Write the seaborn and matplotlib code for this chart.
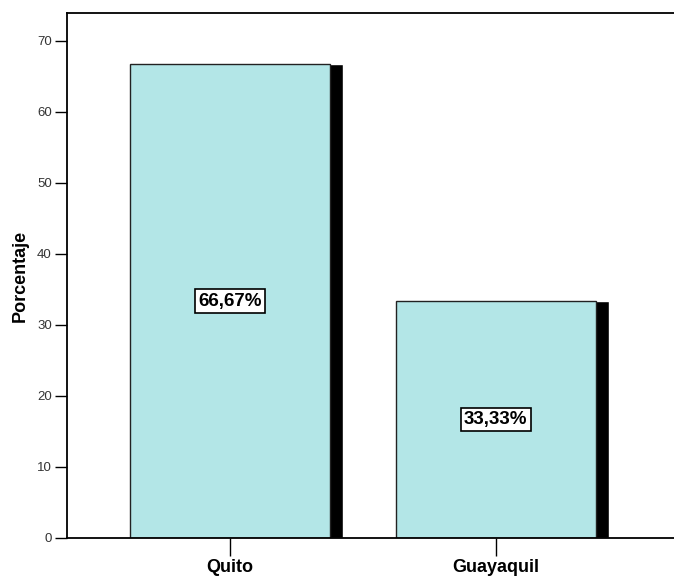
import numpy as np
import pandas as pd
import matplotlib
matplotlib.use('Agg')
import matplotlib.pyplot as plt
import seaborn as sns

# ── Datos ──
ciudades = ['Quito', 'Guayaquil']
porcentajes = [66.67, 33.33]
etiquetas = ['66,67%', '33,33%']
yticks = [0, 10, 20, 30, 40, 50, 60, 70]

sns.set_theme(style='white')
plt.rcParams['font.family'] = ['Liberation Sans', 'DejaVu Sans']

df = pd.DataFrame({'Ciudad': ciudades, 'Porcentaje': porcentajes})

fig = plt.figure(figsize=(6.74, 5.77), dpi=100)
ax = fig.add_axes([67 / 674, 39 / 577, 1 - 67 / 674, 525 / 577])

# sombra negra detrás de cada barra
x = np.arange(len(ciudades))
ax.bar(x + 0.05, porcentajes, width=0.75, color='black', zorder=1)

sns.barplot(data=df, x='Ciudad', y='Porcentaje', color='#B3E6E7',
            width=0.75, edgecolor='#222222', linewidth=1.0,
            saturation=1, ax=ax, zorder=2)

for i, (valor, texto) in enumerate(zip(porcentajes, etiquetas)):
    ax.text(i, valor / 2, texto, ha='center', va='center',
            fontsize=13.5, fontweight='bold', color='black', zorder=3,
            bbox=dict(boxstyle='square,pad=0.18', facecolor='white',
                      edgecolor='black', linewidth=1.2))

ax.set_xlim(-0.613, 1.67)
ax.set_ylim(0, 73.9)
ax.set_yticks(yticks)
ax.set_xlabel('')
ax.set_ylabel('Porcentaje', fontsize=13, fontweight='bold', labelpad=6,
              color='black')

ax.tick_params(axis='y', length=9, width=1, color='black', labelsize=9.5,
               labelcolor='#333333', pad=2, left=True)
ax.tick_params(axis='x', length=13, width=1, color='black', labelsize=13,
               labelcolor='black', pad=2, bottom=True)
for lbl in ax.get_xticklabels():
    lbl.set_fontweight('bold')

for lado in ['left', 'top', 'bottom']:
    ax.spines[lado].set_color('black')
    ax.spines[lado].set_linewidth(1.3)
ax.spines['right'].set_visible(False)

fig.savefig('out.png', dpi=100)
